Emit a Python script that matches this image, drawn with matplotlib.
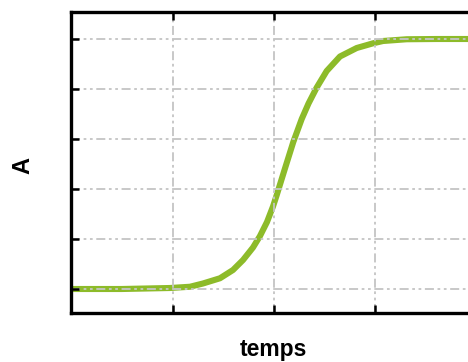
import matplotlib
matplotlib.use("Agg")
import matplotlib.pyplot as plt

# data
temps = [0.0, 0.5, 0.975, 1.172, 1.300, 1.468, 1.596, 1.695, 1.793, 1.862, 1.931, 1.990,
         2.027, 2.108, 2.190, 2.273, 2.340, 2.421, 2.519, 2.650, 2.815, 2.978, 3.074,
         3.307, 3.6, 4.0]
A = [0.0, 0.0, 0.004, 0.009, 0.022, 0.043, 0.076, 0.116, 0.166, 0.212, 0.268, 0.330,
     0.376, 0.482, 0.588, 0.680, 0.742, 0.806, 0.872, 0.930, 0.964, 0.983, 0.992,
     0.999, 1.0, 1.0]
xticks = [0, 1, 2, 3, 4]
yticks = [0, 0.2, 0.4, 0.6, 0.8, 1.0]

plt.rcParams['font.family'] = ['Liberation Sans', 'DejaVu Sans']
fig = plt.figure(figsize=(4.68, 3.62), dpi=100)
ax = fig.add_axes([71/468, 1-313/362, 406/468, (313-12)/362])
ax.plot(temps, A, color='#8dbb2a', lw=4.4, solid_capstyle='butt', solid_joinstyle='round', zorder=2)
ax.set_xlim(0, 4)
ax.set_ylim(-0.096, 1.108)
ax.set_xticks(xticks)
ax.set_yticks(yticks)
ax.set_xticklabels([])
ax.set_yticklabels([])
ax.set_axisbelow(False)
ax.grid(True, color='#c4c4c4', lw=1.3, linestyle=(0, (5, 2, 1.5, 2, 1.5, 2)))
ax.tick_params(direction='in', length=6, width=1.8, top=True, right=True, color='black')
for s in ax.spines.values():
    s.set_linewidth(2.4)
    s.set_zorder(3)
ax.set_xlabel('temps', fontsize=16.5, fontweight='bold', va='baseline')
ax.xaxis.set_label_coords(0.499, -0.143)
ax.set_ylabel('A', fontsize=17, fontweight='bold', va='center')
ax.yaxis.set_label_coords(-0.1195, 0.49)
fig.savefig('out.png', dpi=100)
